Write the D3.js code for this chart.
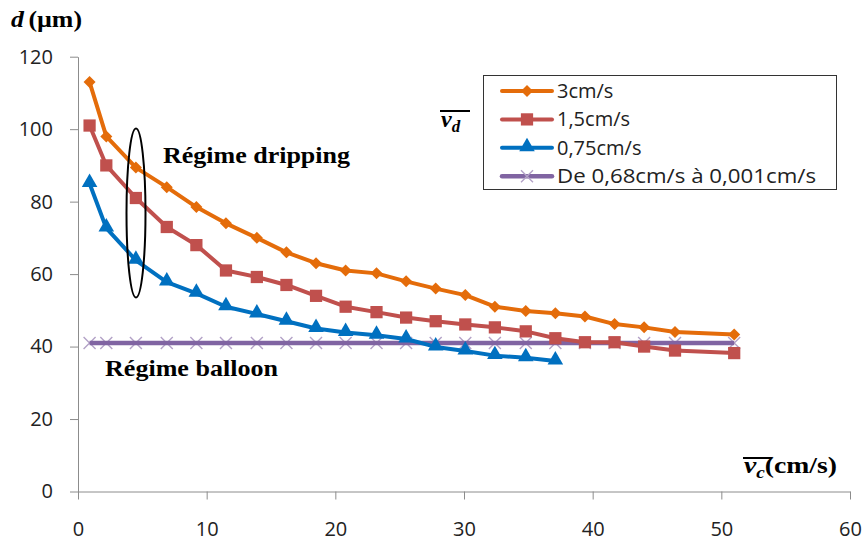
<!DOCTYPE html>
<html><head><meta charset="utf-8">
<script src="https://cdn.jsdelivr.net/npm/d3@7"></script>
<style>body{margin:0;background:#fff}</style>
</head><body><svg id="c" width="863" height="543"></svg>
<script>
const vc = [0.9, 2.2, 4.5, 6.9, 9.2, 11.5, 13.9, 16.2, 18.5, 20.8, 23.2, 25.5, 27.8, 30.1, 32.4, 34.8, 37.1, 39.4, 41.7, 44.0, 46.4, 51.0];
const d3cms = [113, 98, 89.4, 84, 78.5, 74, 70, 66, 63, 61, 60.2, 58, 56, 54.2, 51, 49.8, 49.2, 48.3, 46.2, 45.3, 44, 43.3];
const d15cms = [101, 90, 81, 73, 68, 61, 59.2, 57, 54, 51, 49.5, 48, 47, 46.1, 45.3, 44.2, 42.3, 41.2, 41.2, 40, 38.9, 38.2];
const d075cms = [85, 72.7, 63.8, 57.8, 54.7, 51, 49, 47, 45, 43.9, 43.1, 42.1, 39.9, 38.8, 37.5, 36.9, 36.0];
const dBalloon = [41, 41, 41, 41, 41, 41, 41, 41, 41, 41, 41, 41, 41, 41, 41, 41, 41, 41, 41, 41, 41, 41];
const seriesNames = ["3cm/s", "1,5cm/s", "0,75cm/s", "De 0,68cm/s à 0,001cm/s"];
const xTicks = [0, 10, 20, 30, 40, 50, 60];
const yTicks = [0, 20, 40, 60, 80, 100, 120];

const svg = d3.select("#c");
const x = d3.scaleLinear().domain([0, 60]).range([78, 850]);
const y = d3.scaleLinear().domain([0, 120]).range([491.5, 56.7]);

const tickFont = "'Open Sans', sans-serif";
const serif = "'Liberation Serif', 'Times New Roman', serif";

// axes
const xAxis = svg.append("g").attr("transform", `translate(0,${y(0)})`)
  .call(d3.axisBottom(x).tickValues(xTicks).tickSize(8).tickSizeOuter(0).tickPadding(22));
const yAxis = svg.append("g").attr("transform", `translate(${x(0)},0)`)
  .call(d3.axisLeft(y).tickValues(yTicks).tickSize(8).tickSizeOuter(0).tickPadding(17));
[xAxis, yAxis].forEach(g => {
  g.select(".domain").attr("stroke", "#8c8c8c").attr("stroke-width", 1);
  g.selectAll(".tick line").attr("stroke", "#8c8c8c");
  g.selectAll(".tick text").attr("fill", "#222").style("font-family", tickFont).style("font-size", "20px");
});

// series
const series = [
  {vals: d3cms, color: "#E46C0A", marker: "diamond"},
  {vals: d15cms, color: "#C0504D", marker: "square"},
  {vals: d075cms, color: "#0070C0", marker: "triangle"},
  {vals: dBalloon, color: "#8064A2", marker: "cross"}
];
const line = d3.line().x(d => x(d[0])).y(d => y(d[1]));

function drawMarker(g, type, color, px, py) {
  if (type === "diamond") {
    g.append("path").attr("d", d3.symbol(d3.symbolSquare, 72)())
      .attr("transform", `translate(${px},${py}) rotate(45)`).attr("fill", color);
  } else if (type === "square") {
    g.append("path").attr("d", d3.symbol(d3.symbolSquare, 150)())
      .attr("transform", `translate(${px},${py})`).attr("fill", color);
  } else if (type === "triangle") {
    g.append("path").attr("d", d3.symbol(d3.symbolTriangle, 105)())
      .attr("transform", `translate(${px},${py - 1})`).attr("fill", color);
  } else {
    const s = 6;
    g.append("path").attr("d", `M${-s},${-s}L${s},${s}M${-s},${s}L${s},${-s}`)
      .attr("transform", `translate(${px},${py})`).attr("stroke", "#B3A2C7").attr("stroke-width", 1.4).attr("fill", "none");
  }
}

series.slice().reverse().forEach(s => {
  const pts = s.vals.map((v, i) => [vc[i], v]);
  const g = svg.append("g");
  if (s.marker === "cross") {
    pts.forEach(p => drawMarker(g, s.marker, s.color, x(p[0]), y(p[1])));
    g.append("path").attr("d", line(pts)).attr("fill", "none").attr("stroke", s.color)
      .attr("stroke-width", 4.5);
  } else {
    g.append("path").attr("d", line(pts)).attr("fill", "none").attr("stroke", s.color)
      .attr("stroke-width", 4).attr("stroke-linejoin", "round");
    pts.forEach(p => drawMarker(g, s.marker, s.color, x(p[0]), y(p[1])));
  }
});

// ellipse
svg.append("ellipse").attr("cx", 136).attr("cy", 213).attr("rx", 9.5).attr("ry", 84.5)
  .attr("fill", "none").attr("stroke", "#000").attr("stroke-width", 2);

// annotations
svg.append("text").attr("x", 163).attr("y", 163).text("Régime dripping")
  .style("font-family", serif).style("font-weight", "bold").style("font-size", "23px")
  .attr("textLength", 187).attr("lengthAdjust", "spacingAndGlyphs");
svg.append("text").attr("x", 105).attr("y", 376).text("Régime balloon")
  .style("font-family", serif).style("font-weight", "bold").style("font-size", "23px")
  .attr("textLength", 173).attr("lengthAdjust", "spacingAndGlyphs");

// y-axis title
const yt = svg.append("text").attr("x", 11).attr("y", 27)
  .style("font-family", serif).style("font-weight", "bold").style("font-size", "23px")
  .attr("textLength", 71).attr("lengthAdjust", "spacingAndGlyphs");
yt.append("tspan").style("font-style", "italic").text("d");
yt.append("tspan").attr("dx", 4).text("(µm)");

// v_d label
const vd = svg.append("text").attr("x", 441).attr("y", 127)
  .style("font-family", serif).style("font-weight", "bold").style("font-style", "italic").style("font-size", "24px");
vd.append("tspan").text("v");
vd.append("tspan").attr("dy", 5).style("font-size", "17px").text("d");
svg.append("line").attr("x1", 440).attr("x2", 470).attr("y1", 111).attr("y2", 111)
  .attr("stroke", "#000").attr("stroke-width", 2);

// v_c label
const vcl = svg.append("text").attr("x", 744).attr("y", 473)
  .style("font-family", serif).style("font-weight", "bold").style("font-size", "23px")
  .attr("textLength", 93).attr("lengthAdjust", "spacingAndGlyphs");
vcl.append("tspan").style("font-style", "italic").text("v");
vcl.append("tspan").attr("dy", 5).style("font-style", "italic").style("font-size", "16px").text("c");
vcl.append("tspan").attr("dy", -5).text("(cm/s)");
svg.append("line").attr("x1", 743).attr("x2", 772).attr("y1", 458).attr("y2", 458)
  .attr("stroke", "#000").attr("stroke-width", 2);

// legend
const lg = svg.append("g");
lg.append("rect").attr("x", 483.5).attr("y", 75.5).attr("width", 353).attr("height", 114)
  .attr("fill", "#fff").attr("stroke", "#333").attr("stroke-width", 1);
seriesNames.forEach((name, i) => {
  const cy = 91 + i * 28.4;
  const s = series[i];
  const g = lg.append("g");
  g.append("line").attr("x1", 502).attr("x2", 552).attr("y1", cy).attr("y2", cy)
    .attr("stroke", s.color).attr("stroke-width", s.marker === "cross" ? 4.5 : 4).attr("stroke-linecap", "round");
  drawMarker(g, s.marker, s.color, 527, cy);
  const t = g.append("text").attr("x", 557).attr("y", cy).attr("dy", "0.35em").text(name)
    .style("font-family", tickFont).style("font-size", "20px").attr("fill", "#222");
  if (i === 3) t.attr("textLength", 259).attr("lengthAdjust", "spacingAndGlyphs");
});
</script></body></html>
